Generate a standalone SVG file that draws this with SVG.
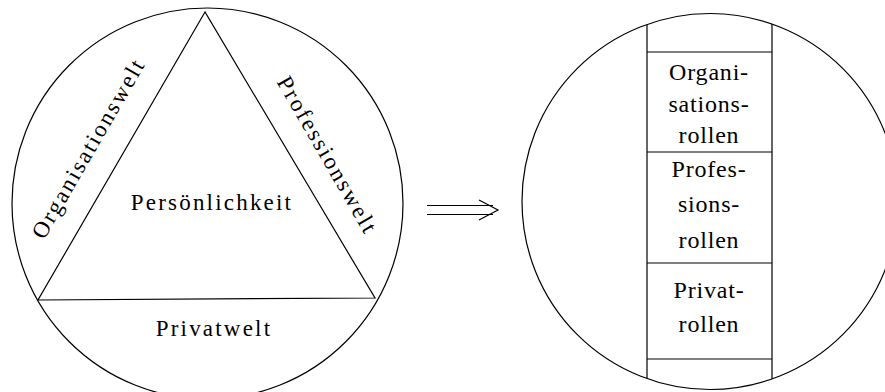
<svg xmlns="http://www.w3.org/2000/svg" width="885" height="392" viewBox="0 0 885 392">
  <style>
    .ln { fill: none; stroke: #000; stroke-width: 1.2; }
    .lbl { font-family: "Liberation Serif", "DejaVu Serif", serif; font-size: 23px; letter-spacing: 2.2px; fill: #000; text-anchor: middle; }
    .cell { font-family: "Liberation Serif", "DejaVu Serif", serif; font-size: 24px; letter-spacing: 0.8px; fill: #000; text-anchor: middle; }
  </style>
  <defs>
    <clipPath id="rightDisc">
      <circle cx="710" cy="201.5" r="188"/>
    </clipPath>
  </defs>
  <rect width="885" height="392" fill="#fff"/>

  <!-- Left: worlds around the personality -->
  <g id="worlds">
    <circle class="ln" cx="207.5" cy="203.5" r="195.5"/>
    <polygon class="ln" points="205,12 38,300 375,298"/>
  </g>
  <g id="persoenlichkeit">
    <text class="lbl" x="212" y="210">Persönlichkeit</text>
  </g>
  <g id="organisationswelt">
    <text class="lbl" transform="translate(95,152) rotate(-60)" x="0" y="0">Organisationswelt</text>
  </g>
  <g id="professionswelt">
    <text class="lbl" transform="translate(321,159) rotate(60)" x="0" y="0">Professionswelt</text>
  </g>
  <g id="privatwelt">
    <text class="lbl" x="214" y="336">Privatwelt</text>
  </g>

  <!-- Implication arrow -->
  <g id="connectors">
    <line class="ln" x1="427" y1="205.5" x2="493" y2="205.5"/>
    <line class="ln" x1="427" y1="214.5" x2="493" y2="214.5"/>
    <polyline class="ln" points="479,200 498,210 479,220"/>
  </g>

  <!-- Right: roles column inside the person -->
  <g id="person">
    <circle class="ln" cx="710" cy="201.5" r="188"/>
    <g clip-path="url(#rightDisc)">
      <line class="ln" x1="647" y1="0" x2="647" y2="392"/>
      <line class="ln" x1="772" y1="0" x2="772" y2="392"/>
    </g>
    <line class="ln" x1="647" y1="52" x2="772" y2="52"/>
    <line class="ln" x1="647" y1="152" x2="772" y2="152"/>
    <line class="ln" x1="647" y1="263" x2="772" y2="263"/>
    <line class="ln" x1="647" y1="359" x2="772" y2="359"/>
  </g>
  <g id="organisationsrollen">
    <text class="cell" x="709" y="80">Organi-</text>
    <text class="cell" x="709" y="112">sations-</text>
    <text class="cell" x="709" y="143">rollen</text>
  </g>
  <g id="professionsrollen">
    <text class="cell" x="709" y="177">Profes-</text>
    <text class="cell" x="709" y="212">sions-</text>
    <text class="cell" x="709" y="248">rollen</text>
  </g>
  <g id="privatrollen">
    <text class="cell" x="709" y="298">Privat-</text>
    <text class="cell" x="709" y="332">rollen</text>
  </g>
</svg>
